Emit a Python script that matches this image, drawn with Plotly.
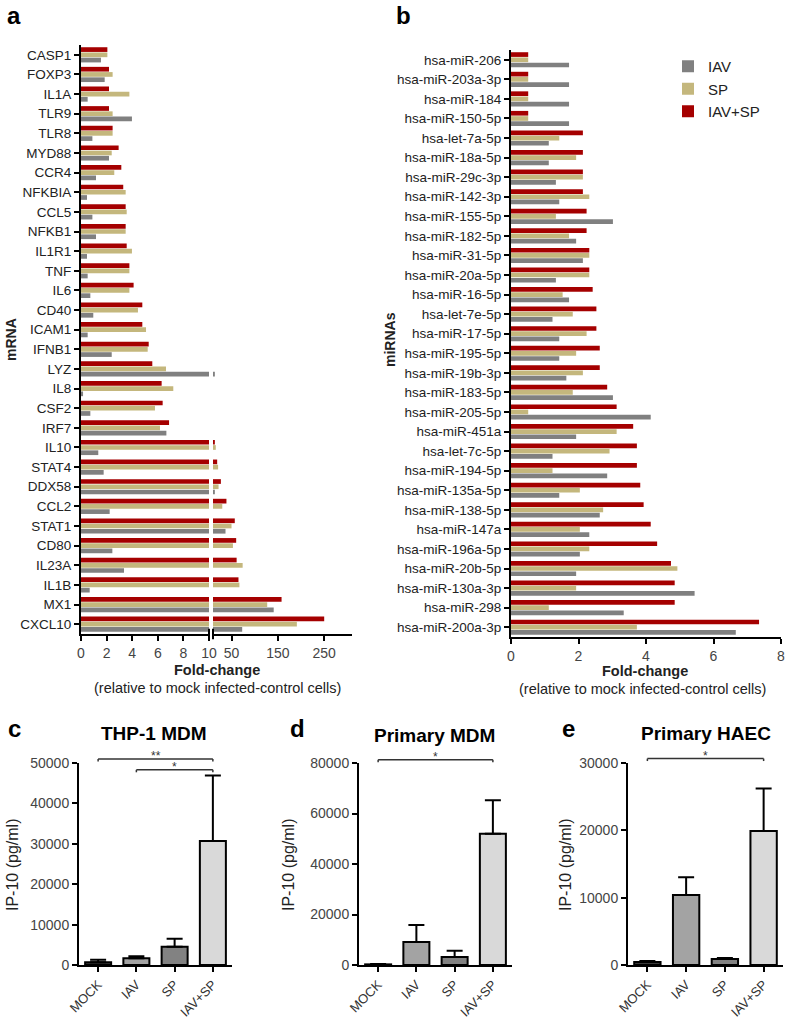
import plotly.graph_objects as go

# ---------------- Panel a: mRNA fold-change ----------------
genes = ["CASP1", "FOXP3", "IL1A", "TLR9", "TLR8", "MYD88", "CCR4", "NFKBIA", "CCL5", "NFKB1",
         "IL1R1", "TNF", "IL6", "CD40", "ICAM1", "IFNB1", "LYZ", "IL8", "CSF2", "IRF7",
         "IL10", "STAT4", "DDX58", "CCL2", "STAT1", "CD80", "IL23A", "IL1B", "MX1", "CXCL10"]
gene_iav = [1.56, 1.85, 0.52, 3.98, 0.89, 2.19, 1.17, 0.47, 0.89, 1.17,
            0.47, 0.52, 0.73, 0.96, 0.52, 2.4, 14, 0.16, 0.73, 6.67,
            1.35, 1.77, 14, 2.24, 37, 2.45, 3.36, 0.68, 141, 73]
gene_sp = [2.06, 2.47, 3.78, 2.47, 2.47, 2.4, 2.6, 3.49, 3.57, 3.49,
           3.98, 3.78, 3.78, 4.45, 5.08, 5.21, 6.64, 7.21, 5.78, 6.17,
           16, 21, 22, 30, 50, 53, 74, 67, 127, 191]
gene_iavsp = [2.06, 2.19, 2.19, 2.19, 2.47, 2.94, 3.15, 3.3, 3.49, 3.49,
              3.57, 3.78, 4.11, 4.79, 4.79, 5.29, 5.57, 6.3, 6.38, 6.88,
              14, 19, 27, 39, 57, 60, 61, 65, 158, 250]

# ---------------- Panel b: miRNA fold-change ----------------
mirnas = ["hsa-miR-206", "hsa-miR-203a-3p", "hsa-miR-184", "hsa-miR-150-5p", "hsa-let-7a-5p",
          "hsa-miR-18a-5p", "hsa-miR-29c-3p", "hsa-miR-142-3p", "hsa-miR-155-5p", "hsa-miR-182-5p",
          "hsa-miR-31-5p", "hsa-miR-20a-5p", "hsa-miR-16-5p", "hsa-let-7e-5p", "hsa-miR-17-5p",
          "hsa-miR-195-5p", "hsa-miR-19b-3p", "hsa-miR-183-5p", "hsa-miR-205-5p", "hsa-miR-451a",
          "hsa-let-7c-5p", "hsa-miR-194-5p", "hsa-miR-135a-5p", "hsa-miR-138-5p", "hsa-miR-147a",
          "hsa-miR-196a-5p", "hsa-miR-20b-5p", "hsa-miR-130a-3p", "hsa-miR-298", "hsa-miR-200a-3p"]
mir_iav = [1.72, 1.72, 1.72, 1.72, 1.12, 1.12, 1.33, 1.43, 3.02, 1.93,
           2.13, 1.33, 1.72, 1.23, 1.43, 1.43, 1.64, 3.02, 4.14, 1.93,
           1.23, 2.85, 1.43, 2.63, 2.32, 2.04, 1.93, 5.44, 3.34, 6.66]
mir_sp = [0.51, 0.51, 0.51, 0.51, 1.43, 1.93, 2.13, 2.32, 1.33, 1.72,
          2.32, 2.32, 1.53, 1.83, 2.24, 1.93, 2.13, 1.83, 0.51, 3.13,
          2.92, 1.23, 2.04, 2.73, 2.04, 2.32, 4.93, 1.93, 1.12, 3.73]
mir_iavsp = [0.51, 0.51, 0.51, 0.51, 2.13, 2.13, 2.13, 2.13, 2.24, 2.24,
             2.32, 2.32, 2.42, 2.53, 2.53, 2.63, 2.63, 2.85, 3.13, 3.62,
             3.73, 3.73, 3.83, 3.93, 4.14, 4.33, 4.74, 4.85, 4.85, 7.35]

# ---------------- Panels c-e: IP-10 ELISA ----------------
conditions = ["MOCK", "IAV", "SP", "IAV+SP"]
thp1_mean = [700, 1700, 4500, 30700]
thp1_err = [600, 450, 2000, 16200]
pmdm_mean = [250, 9100, 3200, 52000]
pmdm_err = [100, 6700, 2400, 13200]
haec_mean = [450, 10400, 900, 19900]
haec_err = [150, 2650, 150, 6300]

# significance brackets: (from condition, to condition, level, label)
thp1_sig = [("MOCK", "IAV+SP", 51000, "**"), ("IAV", "IAV+SP", 48300, "*")]
pmdm_sig = [("MOCK", "IAV+SP", 81300, "*")]
haec_sig = [("MOCK", "IAV+SP", 30650, "*")]

RED = "#A50000"
TAN = "#C4B77D"
GRAY = "#808080"
cond_colors = ["#3a3a3a", "#A3A3A3", "#828282", "#D9D9D9"]
FONT = "Liberation Sans, Arial, sans-serif"

W, H = 787, 1021
def px_x(p):
    return p / W
def px_y(p):
    return 1 - p / H

fig = go.Figure()

series = [("IAV+SP", RED, gene_iavsp, mir_iavsp),
          ("SP", TAN, gene_sp, mir_sp),
          ("IAV", GRAY, gene_iav, mir_iav)]

for name, col, gv, mv in series:
    for xa in ["x", "x2"]:
        fig.add_trace(go.Bar(y=genes, x=gv, orientation="h", name=name, marker_color=col,
                             marker_line_width=0, xaxis=xa, yaxis="y", showlegend=False))
    fig.add_trace(go.Bar(y=mirnas, x=mv, orientation="h", name=name, marker_color=col,
                         marker_line_width=0, xaxis="x3", yaxis="y2", showlegend=True))

bottom = [(thp1_mean, thp1_err, "x4", "y3"),
          (pmdm_mean, pmdm_err, "x5", "y4"),
          (haec_mean, haec_err, "x6", "y5")]
for mean, err, xa, ya in bottom:
    fig.add_trace(go.Bar(x=conditions, y=mean, width=0.68, xaxis=xa, yaxis=ya, showlegend=False,
                         marker=dict(color=cond_colors, line=dict(color="black", width=2)),
                         error_y=dict(type="data", array=err, arrayminus=[0] * len(err),
                                      symmetric=False, color="black", thickness=2, width=8)))

tickfont = dict(family=FONT, size=14, color="#444")
axis_common = dict(showline=True, linecolor="black", linewidth=2, ticks="outside",
                   tickcolor="black", tickwidth=2, ticklen=5, showgrid=False, zeroline=False,
                   tickfont=tickfont, automargin=False)
xcat_common = {**axis_common, "tickfont": dict(family=FONT, size=13, color="#333"), "tickangle": -45}

bot_y = [px_y(965), px_y(763)]
layout = dict(
    template="none",
    width=W, height=H, margin=dict(l=0, r=0, t=0, b=0, autoexpand=False),
    paper_bgcolor="white", plot_bgcolor="white",
    barmode="group", bargap=0.2, bargroupgap=0.1,
    font=dict(family=FONT, color="#222"),
    showlegend=True,
    legend=dict(x=px_x(668), y=px_y(50), xanchor="left", yanchor="top", traceorder="reversed",
                font=dict(family=FONT, size=15, color="#222"), bgcolor="rgba(0,0,0,0)"),
    xaxis=dict(domain=[px_x(81), px_x(209)], range=[0, 10], anchor="y",
               tickvals=[0, 2, 4, 6, 8, 10], **axis_common),
    xaxis2=dict(domain=[px_x(213), px_x(352)], range=[10, 310], anchor="y",
                tickvals=[50, 150, 250], **axis_common),
    yaxis=dict(domain=[px_y(634), px_y(45)], anchor="x", categoryorder="array",
               categoryarray=genes, autorange="reversed",
               **{**axis_common, "tickfont": dict(family=FONT, size=13.5, color="#222")}),
    xaxis3=dict(domain=[px_x(511), px_x(781)], range=[0, 8], anchor="y2",
                tickvals=[0, 2, 4, 6, 8], **axis_common),
    yaxis2=dict(domain=[px_y(637), px_y(50)], anchor="x3", categoryorder="array",
                categoryarray=mirnas, autorange="reversed",
                **{**axis_common, "tickfont": dict(family=FONT, size=13.5, color="#222")}),
    xaxis4=dict(domain=[px_x(79), px_x(232)], anchor="y3", **xcat_common),
    yaxis3=dict(domain=bot_y, anchor="x4", range=[0, 50000], tickvals=list(range(0, 50001, 10000)),
                tickformat="d", **axis_common),
    xaxis5=dict(domain=[px_x(359), px_x(512)], anchor="y4", **xcat_common),
    yaxis4=dict(domain=bot_y, anchor="x5", range=[0, 80000], tickvals=list(range(0, 80001, 20000)),
                tickformat="d", **axis_common),
    xaxis6=dict(domain=[px_x(628), px_x(783)], anchor="y5", **xcat_common),
    yaxis5=dict(domain=bot_y, anchor="x6", range=[0, 30000], tickvals=list(range(0, 30001, 10000)),
                tickformat="d", **axis_common),
)
fig.update_layout(**layout)

# axis break marks on panel a
for xr, xv in [("x domain", 1), ("x2 domain", 0)]:
    fig.add_shape(type="line", xref=xr, yref="y domain", x0=xv, x1=xv, y0=-0.009, y1=0.009,
                  line=dict(color="black", width=2))

# significance brackets
for sigs, xa, ya, ymax in [(thp1_sig, "x4", "y3", 50000), (pmdm_sig, "x5", "y4", 80000),
                           (haec_sig, "x6", "y5", 30000)]:
    for c0, c1, level, lab in sigs:
        i0, i1 = conditions.index(c0), conditions.index(c1)
        yf = level / ymax
        fig.add_shape(type="line", xref=xa, yref=ya + " domain", x0=i0, x1=i1, y0=yf, y1=yf,
                      line=dict(color="#333", width=1.5))
        for ii in (i0, i1):
            fig.add_shape(type="line", xref=xa, yref=ya + " domain", x0=ii, x1=ii,
                          y0=yf - 0.012, y1=yf, line=dict(color="#333", width=1.5))
        fig.add_annotation(xref=xa, yref=ya + " domain", x=(i0 + i1) / 2, y=yf, text=lab,
                           showarrow=False, yanchor="middle", yshift=3,
                           font=dict(family=FONT, size=12, color="#333"))

def ann(x, y, text, size, bold=False, angle=0, color="#222"):
    t = f"<b>{text}</b>" if bold else text
    fig.add_annotation(xref="paper", yref="paper", x=px_x(x), y=px_y(y), text=t,
                       showarrow=False, textangle=angle, xanchor="center", yanchor="middle",
                       font=dict(family=FONT, size=size, color=color))

# panel letters
ann(14, 15, "a", 24, bold=True, color="black")
ann(403, 15, "b", 24, bold=True, color="black")
ann(14, 728, "c", 24, bold=True, color="black")
ann(297, 728, "d", 24, bold=True, color="black")
ann(568, 728, "e", 24, bold=True, color="black")

# axis titles panels a,b
ann(11, 340, "mRNA", 14, bold=True, angle=-90)
ann(390, 340, "miRNAs", 14, bold=True, angle=-90)
ann(217, 670, "Fold-change", 14.5, bold=True)
ann(217, 688, "(relative to mock infected-control cells)", 14.5)
ann(645, 671, "Fold-change", 14.5, bold=True)
ann(642, 689, "(relative to mock infected-control cells)", 14.5)

# bottom panels titles
ann(154, 733, "THP-1 MDM", 19, bold=True, color="black")
ann(434, 735, "Primary MDM", 19, bold=True, color="black")
ann(706, 733, "Primary HAEC", 19, bold=True, color="black")
ann(12, 865, "IP-10 (pg/ml)", 16, angle=-90)
ann(288, 865, "IP-10 (pg/ml)", 16, angle=-90)
ann(565, 865, "IP-10 (pg/ml)", 16, angle=-90)

fig.write_html("out.html", config={"displayModeBar": False},
               post_script="document.body.style.margin='0';"
                           "document.documentElement.style.overflow='hidden';")
